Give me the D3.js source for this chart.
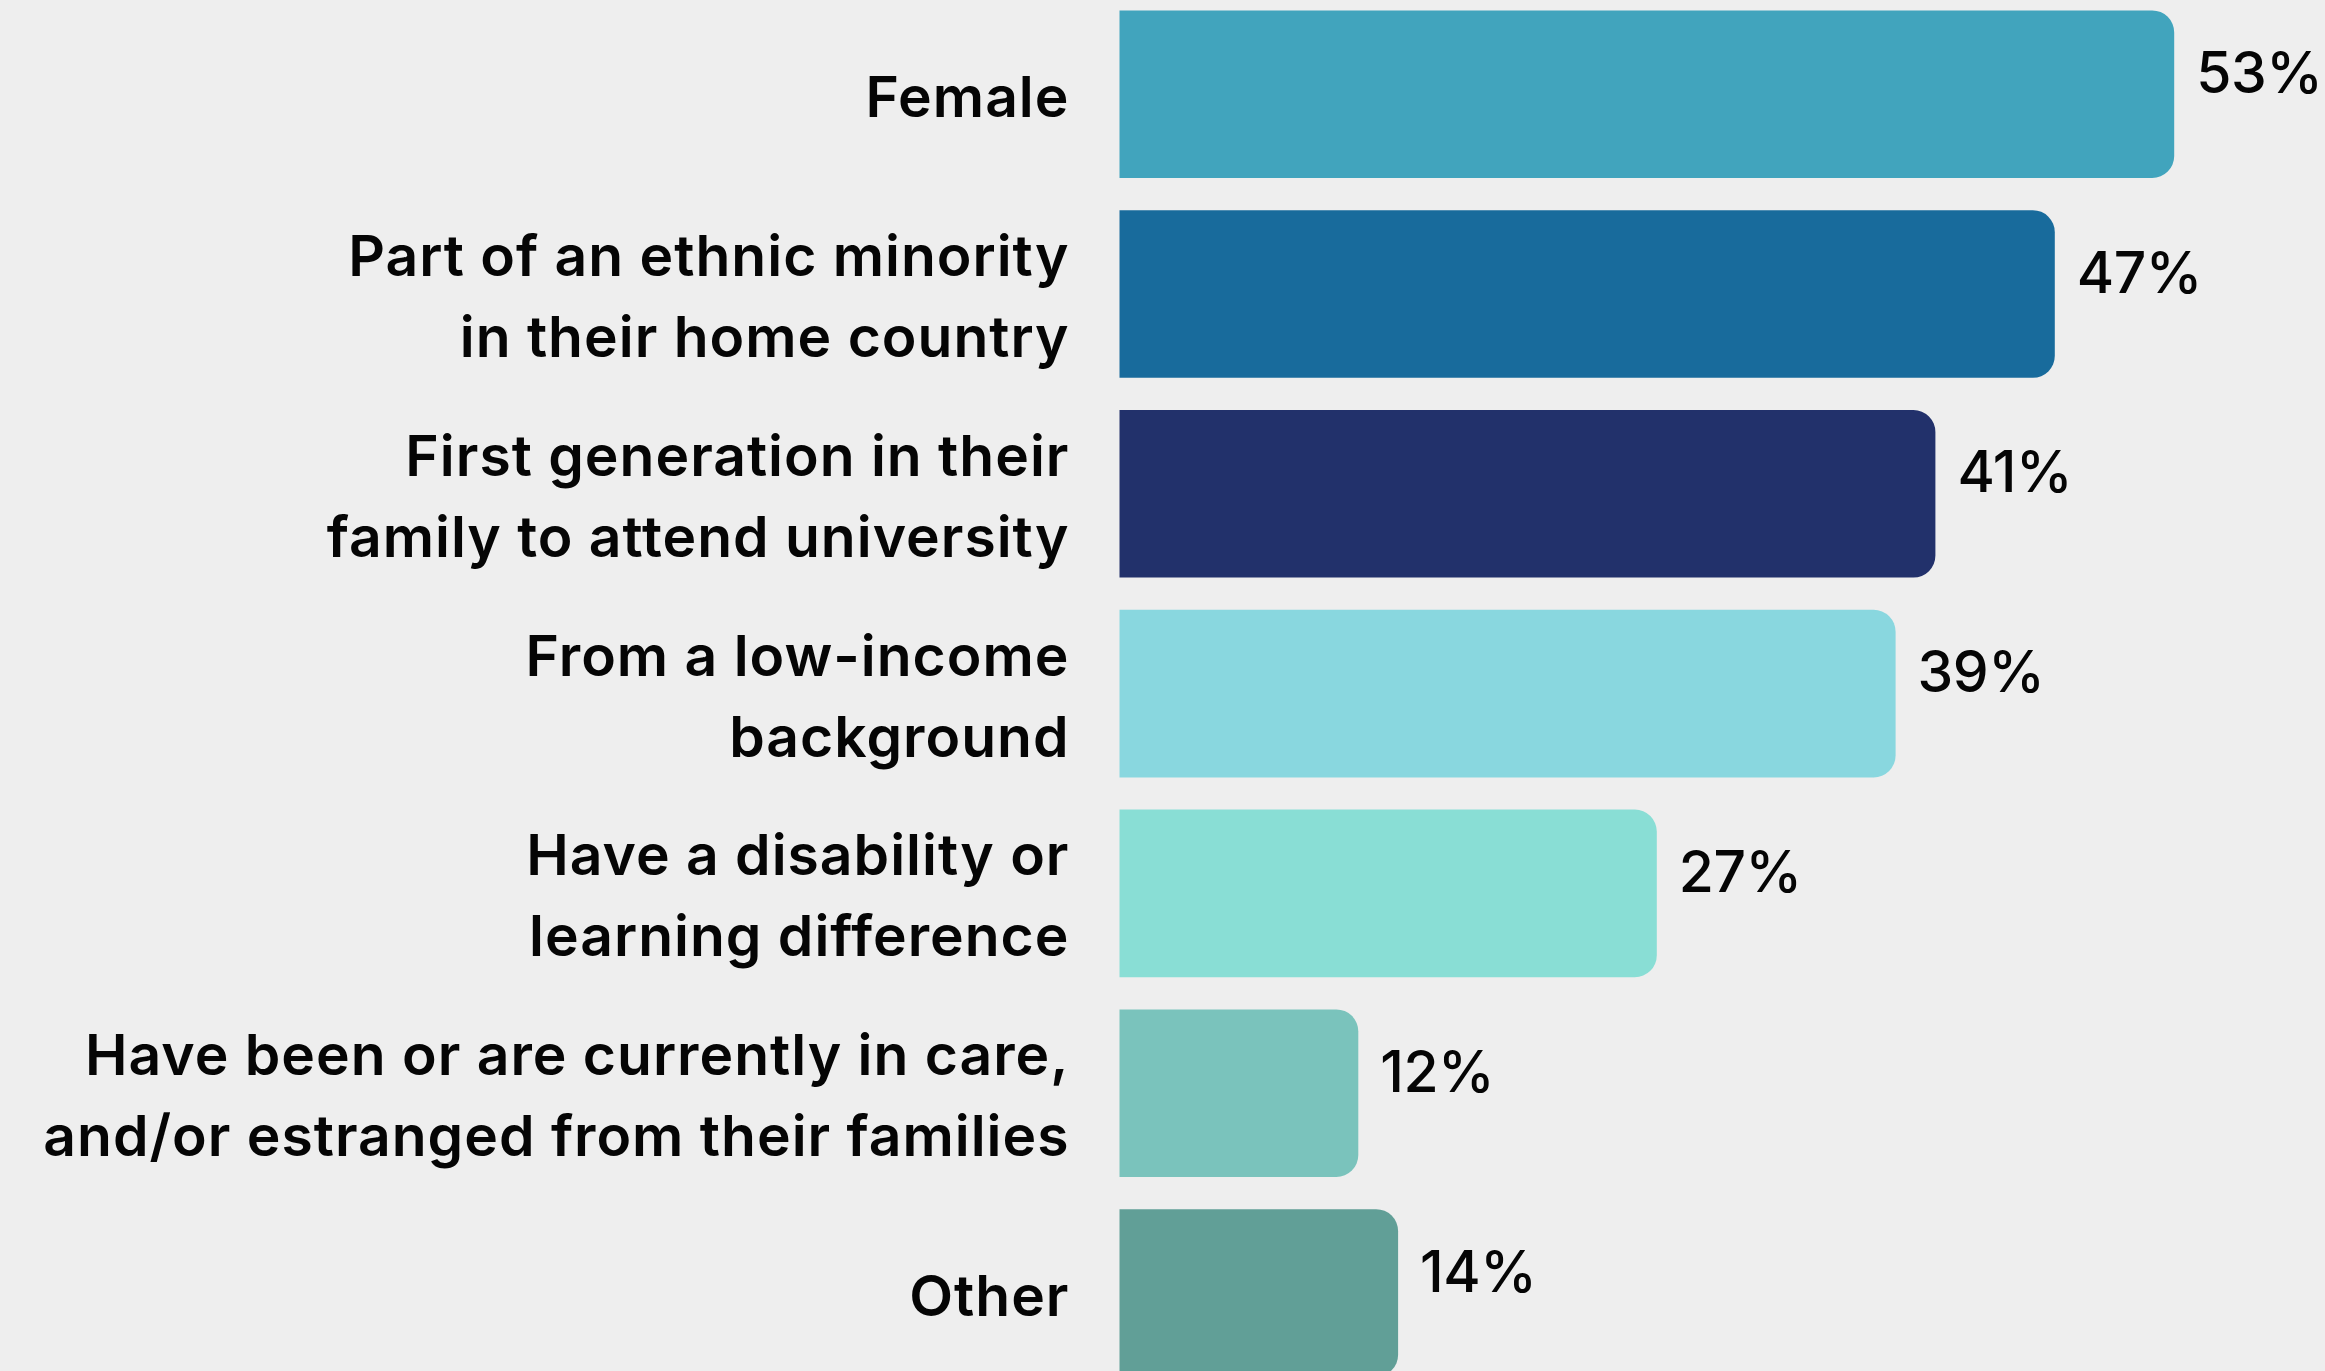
<!DOCTYPE html>
<html>
<head>
<meta charset="utf-8">
<script src="https://cdn.jsdelivr.net/npm/d3@7"></script>
<style>
  html, body { margin: 0; padding: 0; background: #eeeeee; }
  svg { display: block; }
</style>
</head>
<body>
<script>
// Data
const categories = [
  "Female",
  "Part of an ethnic minority in their home country",
  "First generation in their family to attend university",
  "From a low-income background",
  "Have a disability or learning difference",
  "Have been or are currently in care, and/or estranged from their families",
  "Other"
];
const labelLines = [
  ["Female"],
  ["Part of an ethnic minority", "in their home country"],
  ["First generation in their", "family to attend university"],
  ["From a low-income", "background"],
  ["Have a disability or", "learning difference"],
  ["Have been or are currently in care,", "and/or estranged from their families"],
  ["Other"]
];
const values = [53, 47, 41, 39, 27, 12, 14];
const colors = ["#41a4bd", "#186b9c", "#22316b", "#89d7df", "#89ded5", "#7ac3bc", "#619f97"];

const width = 2325, height = 1371;
const barLeft = 1119.5;
const radius = 22;
const fontSize = 57;
const lineHeight = 81;
const font = "Inter, 'Noto Sans', sans-serif";

const x = d3.scaleLinear([0, 100], [barLeft, barLeft + 1990]);
const y = d3.scaleBand(categories, [10.4, 1376.8]).paddingInner(0.161);

const svg = d3.select("body").append("svg")
    .attr("width", width)
    .attr("height", height)
    .attr("viewBox", [0, 0, width, height]);

svg.append("rect")
    .attr("width", width)
    .attr("height", height)
    .attr("fill", "#eeeeee");

// Bar with square left end and rounded right corners
function barPath(x0, x1, y0, h) {
  const r = Math.min(radius, (x1 - x0), h / 2);
  return `M${x0},${y0}H${x1 - r}A${r},${r} 0 0 1 ${x1},${y0 + r}` +
         `V${y0 + h - r}A${r},${r} 0 0 1 ${x1 - r},${y0 + h}H${x0}Z`;
}

const rows = d3.range(categories.length);

svg.append("g")
  .selectAll("path")
  .data(rows)
  .join("path")
    .attr("d", i => barPath(x(0), x(values[i]), y(categories[i]), y.bandwidth()))
    .attr("fill", i => colors[i]);

// category labels, right aligned
const label = svg.append("g")
    .attr("font-family", font)
    .attr("font-weight", 600)
    .attr("font-size", fontSize)
    .attr("letter-spacing", 1)
    .attr("fill", "#050505")
    .attr("text-anchor", "end")
  .selectAll("text")
  .data(rows)
  .join("text")
    .attr("x", barLeft - 50)
    .attr("y", i => y(categories[i]) + y.bandwidth() / 2 + 7);

label.selectAll("tspan")
  .data(i => labelLines[i].map((t, k, arr) => ({t, k, n: arr.length})))
  .join("tspan")
    .attr("x", barLeft - 50)
    .attr("dy", d => d.k === 0 ? ((1 - d.n) / 2 * lineHeight) : lineHeight)
    .attr("dominant-baseline", "middle")
    .text(d => d.t);

// value labels
svg.append("g")
    .attr("font-family", font)
    .attr("font-weight", 500)
    .attr("font-size", fontSize)
    .attr("letter-spacing", -0.5)
    .attr("fill", "#050505")
  .selectAll("text")
  .data(rows)
  .join("text")
    .attr("x", i => x(values[i]) + 22)
    .attr("y", i => y(categories[i]) + y.bandwidth() / 2 - 17)
    .attr("dominant-baseline", "middle")
    .text(i => values[i] + "%");
</script>
</body>
</html>
